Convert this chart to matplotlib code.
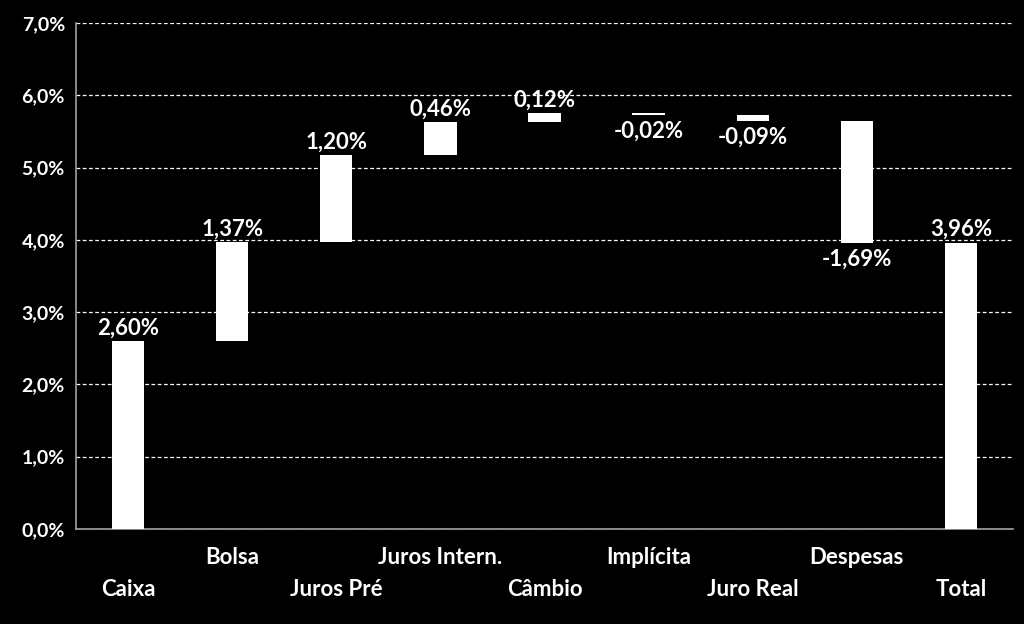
import matplotlib
matplotlib.use("Agg")
import matplotlib.pyplot as plt
from matplotlib.ticker import FuncFormatter, MultipleLocator

categories = ["Caixa", "Bolsa", "Juros Pré", "Juros Intern.", "Câmbio",
              "Implícita", "Juro Real", "Despesas", "Total"]
values = [2.60, 1.37, 1.20, 0.46, 0.12, -0.02, -0.09, -1.69, 3.96]
labels = ["2,60%", "1,37%", "1,20%", "0,46%", "0,12%",
          "-0,02%", "-0,09%", "-1,69%", "3,96%"]

plt.rcParams["font.family"] = ["Lato", "DejaVu Sans"]
plt.rcParams["font.weight"] = "bold"

fig = plt.figure(figsize=(10.24, 6.24), dpi=100)
fig.patch.set_facecolor("black")
ax = fig.add_axes((76 / 1024, 1 - 529 / 624, (1013 - 76) / 1024, (529 - 23) / 624))
ax.set_facecolor("black")

# waterfall bases
bases, heights = [], []
running = 0.0
for i, v in enumerate(values):
    if i == len(values) - 1:
        bases.append(0.0)
        heights.append(v)
    else:
        bases.append(running if v >= 0 else running + v)
        heights.append(abs(v))
        running += v

x = list(range(len(categories)))
ax.bar(x, heights, bottom=bases, width=0.31, color="white",
       edgecolor="none", zorder=3)

for i, (b, h, v, t) in enumerate(zip(bases, heights, values, labels)):
    if v >= 0:
        ax.annotate(t, (i, b + h), xytext=(0, 2), textcoords="offset points",
                    ha="center", va="bottom", color="white", fontsize=16,
                    fontweight="bold")
    else:
        ax.annotate(t, (i, b), xytext=(0, -4), textcoords="offset points",
                    ha="center", va="top", color="white", fontsize=16,
                    fontweight="bold")

ax.set_xlim(-0.5, len(categories) - 0.5)
ax.set_ylim(0, 7)
ax.yaxis.set_major_locator(MultipleLocator(1))
ax.yaxis.set_major_formatter(FuncFormatter(lambda v, p: f"{v:.1f}%".replace(".", ",")))
ax.grid(axis="y", color="white", linestyle=(0, (3, 2)), linewidth=0.9, zorder=0)

ax.set_xticks(x)
ax.set_xticklabels(categories)
for i, tick in enumerate(ax.xaxis.get_major_ticks()):
    tick.set_pad(36 if i % 2 == 0 else 13)
ax.tick_params(axis="x", length=0, labelsize=16, labelcolor="white")
ax.tick_params(axis="y", length=0, labelsize=14, labelcolor="white", pad=8)
for lab in ax.get_xticklabels() + ax.get_yticklabels():
    lab.set_fontweight("bold")

for side in ("top", "right"):
    ax.spines[side].set_visible(False)
for side in ("left", "bottom"):
    ax.spines[side].set_color("#a0a0a0")
    ax.spines[side].set_linewidth(1.2)

fig.savefig("out.png", facecolor=fig.get_facecolor())
